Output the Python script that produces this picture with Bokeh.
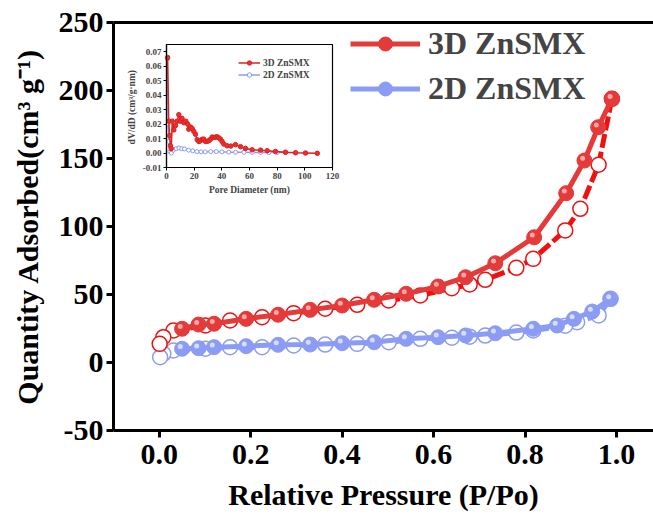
from bokeh.plotting import figure
from bokeh.models import Range1d, LinearAxis, FixedTicker, Legend, LegendItem, PrintfTickFormatter
from bokeh.transform import dodge
from bokeh.embed import file_html
from bokeh.resources import INLINE

# ---------------- data ----------------
X_TICKS = [0.0, 0.2, 0.4, 0.6, 0.8, 1.0]
Y_TICKS = [-50, 0, 50, 100, 150, 200, 250]

ads3d_x = [0.05, 0.086, 0.12, 0.19, 0.26, 0.33, 0.40, 0.47, 0.54, 0.61, 0.67, 0.735, 0.82, 0.89, 0.93, 0.96, 0.99]
ads3d_y = [24.8, 27.9, 28.5, 32.1, 35.1, 38.7, 41.9, 46.1, 50.5, 55.9, 62.7, 73.0, 92.1, 124.5, 148.5, 173.0, 193.9]
des3d_x = [0.99, 0.961, 0.921, 0.888, 0.818, 0.781, 0.713, 0.679, 0.640, 0.571, 0.502, 0.433, 0.363, 0.294, 0.225, 0.155, 0.101, 0.031, 0.009, 0.001]
des3d_y = [193.9, 145.4, 113.0, 97.1, 76.2, 69.6, 60.8, 57.4, 54.6, 49.3, 45.6, 42.4, 39.5, 36.3, 33.3, 30.9, 27.2, 23.5, 18.6, 13.7]

ads2d_x = [0.05, 0.086, 0.12, 0.19, 0.26, 0.33, 0.40, 0.47, 0.54, 0.61, 0.67, 0.735, 0.818, 0.87, 0.907, 0.947, 0.987]
ads2d_y = [10.1, 10.5, 11.3, 12.0, 13.0, 13.2, 14.2, 14.9, 17.4, 18.6, 19.9, 21.5, 24.8, 27.2, 32.1, 37.5, 46.8]
des2d_x = [0.987, 0.961, 0.914, 0.888, 0.818, 0.781, 0.713, 0.679, 0.640, 0.571, 0.502, 0.433, 0.363, 0.294, 0.225, 0.155, 0.101, 0.031, 0.009, 0.002]
des2d_y = [46.8, 34.6, 29.6, 27.0, 23.5, 22.0, 19.8, 19.0, 18.2, 17.4, 14.9, 13.7, 13.2, 12.5, 11.2, 11.2, 10.1, 8.8, 6.4, 3.9]

INSET_X_TICKS = [0, 20, 40, 60, 80, 100, 120]
INSET_Y_TICKS = [-0.01, 0.0, 0.01, 0.02, 0.03, 0.04, 0.05, 0.06, 0.07]
psd3d_x = [0.8, 1.6, 2.2, 2.8, 3.4, 4.2, 5.3, 6.5, 7.7, 8.9, 10.0, 11.2, 12.5, 14.0, 15.3, 16.1, 17.3, 18.5, 19.7,
           20.9, 22.2, 23.4, 24.6, 25.8, 26.9, 28.2, 29.4, 30.6, 31.8, 33.0, 34.2, 35.4, 36.6, 37.8, 39.0, 40.2,
           41.4, 43.8, 46.5, 49.9, 53.5, 57.1, 61.9, 68.0, 72.8, 78.8, 86.0, 93.3, 100.5, 109.0]
psd3d_y = [0.066, 0.022, 0.012, 0.005, 0.003, 0.022, 0.016, 0.019, 0.022, 0.0265, 0.022, 0.024, 0.021, 0.022, 0.020,
           0.0165, 0.018, 0.017, 0.015, 0.013, 0.0092, 0.008, 0.0085, 0.0095, 0.0096, 0.008, 0.0081, 0.0085, 0.0095,
           0.011, 0.0108, 0.011, 0.0112, 0.0105, 0.0096, 0.008, 0.0062, 0.005, 0.0048, 0.0058, 0.0044, 0.0032,
           0.0022, 0.0020, 0.0016, 0.0011, 0.0006, 0.0002, 0.0, -0.0002]
psd2d_x = [0.6, 1.2, 1.8, 2.5, 3.5, 5, 7, 9, 11, 13, 16, 19, 22, 25, 28, 32, 36, 40, 45, 50, 56, 62, 68, 74, 80, 86]
psd2d_y = [0.065, 0.02, 0.008, 0.001, 0.0, 0.002, 0.003, 0.0035, 0.003, 0.0028, 0.002, 0.0015, 0.001, 0.0008,
           0.0008, 0.001, 0.001, 0.0008, 0.0006, 0.0005, 0.0005, 0.0004, 0.0004, 0.0003, 0.0003, 0.0003]

# ---------------- layout / style ----------------
W, H = 653, 517
FRAME_L, FRAME_T, FRAME_B = 113, 22, 430
FONT = "Liberation Serif"
RED_A, RED_D, RED_HI = "#e43a3a", "#f01010", "#ffb4b4"
BLUE, BLUE_HI = "#8b9cf4", "#dfe4ff"

p = figure(width=W, height=H, output_backend="svg", toolbar_location=None,
           x_range=Range1d(-0.1, 1.081), y_range=Range1d(-50, 250),
           min_border_left=FRAME_L, min_border_right=0, min_border_top=FRAME_T,
           min_border_bottom=H - FRAME_B)
p.outline_line_color = None
p.grid.visible = False
p.background_fill_color = "white"
p.border_fill_color = "white"

xa, ya = p.xaxis[0], p.yaxis[0]
xa.ticker = FixedTicker(ticks=X_TICKS)
xa.formatter = PrintfTickFormatter(format="%.1f")
ya.ticker = FixedTicker(ticks=Y_TICKS)
ya.major_label_overrides = {t: ("%d" % t) for t in Y_TICKS}
xa.axis_label = "Relative Pressure (P/Po)"
ya.axis_label = "Quantity Adsorbed(cm³ g⁻¹)"
for ax in (xa, ya):
    ax.axis_line_width = 3
    ax.major_tick_line_width = 3
    ax.major_tick_out = 7
    ax.major_tick_in = 0
    ax.minor_tick_out = 0
    ax.minor_tick_in = 0
    ax.major_label_text_font = FONT
    ax.major_label_text_font_style = "bold"
    ax.major_label_text_font_size = "30px"
    ax.axis_label_text_font = FONT
    ax.axis_label_text_font_style = "bold"
    ax.axis_label_text_font_size = "30px"
    ax.axis_label_text_color = "black"
    ax.major_label_text_color = "black"
xa.major_label_standoff = 7
xa.axis_label_standoff = 11
ya.major_label_standoff = 3
ya.axis_label_standoff = 12

top = LinearAxis(ticker=FixedTicker(ticks=[]), axis_line_width=3, major_tick_out=0, minor_tick_out=0,
                 major_tick_in=0, minor_tick_in=0)
p.add_layout(top, "above")

# main isotherms
def isotherm(ax_, ay_, dx_, dy_, ca, cd, chi, fill):
    p.line(dx_, dy_, line_color=cd, line_width=5, line_dash="14 4")
    p.scatter(dx_, dy_, size=15, marker="circle", fill_color="white", line_color=cd, line_width=1.5)
    la = p.line(ax_, ay_, line_color=ca, line_width=5)
    sa = p.scatter(ax_, ay_, size=15, marker="circle", fill_color=fill, line_color=fill, line_width=1)
    src = dict(x=ax_, y=ay_)
    p.scatter(x=dodge("x", -0.004), y=dodge("y", 1.6), source=src, size=5, marker="circle",
              fill_color=chi, line_color=None, fill_alpha=0.9)
    return la, sa

la2, sa2 = isotherm(ads2d_x, ads2d_y, des2d_x, des2d_y, BLUE, BLUE, BLUE_HI, BLUE)
la3, sa3 = isotherm(ads3d_x, ads3d_y, des3d_x, des3d_y, RED_A, RED_D, RED_HI, RED_A)

# legend: location is the bottom-left corner, in px from the frame's bottom-left
LEG_TOP, LEG_ITEM_H, LEG_SP = 29, 35, 8
leg_h = 2 * LEG_ITEM_H + LEG_SP
leg = Legend(items=[LegendItem(label="3D ZnSMX", renderers=[la3, sa3]),
                    LegendItem(label="2D ZnSMX", renderers=[la2, sa2])],
             location=(237, FRAME_B - LEG_TOP - leg_h), orientation="vertical",
             label_text_font=FONT, label_text_font_style="bold", label_text_font_size="32px",
             glyph_width=70, glyph_height=LEG_ITEM_H, label_height=LEG_ITEM_H, spacing=LEG_SP,
             label_standoff=8, padding=0, margin=0, border_line_alpha=0, background_fill_alpha=0)
p.add_layout(leg, "center")

# ---------------- inset ----------------
IN_L, IN_R, IN_T, IN_B = 166, 332, 44, 167
IX = (0, 120)
IY = (-0.01, 0.075)
sx = (IN_R - IN_L) / (IX[1] - IX[0])
sy = (IN_B - IN_T) / (IY[1] - IY[0])
p.extra_x_ranges = {"ix": Range1d(IX[0] - (IN_L - FRAME_L) / sx, IX[1] + (W - IN_R) / sx)}
p.extra_y_ranges = {"iy": Range1d(IY[0] - (FRAME_B - IN_B) / sy, IY[1] + (IN_T - FRAME_T) / sy)}

p.quad(left=IX[0], right=IX[1], bottom=IY[0], top=IY[1], x_range_name="ix", y_range_name="iy",
       fill_color="white", line_color="black", line_width=1.2)

r2l = p.line(psd2d_x, psd2d_y, x_range_name="ix", y_range_name="iy", line_color=BLUE, line_width=1.5)
r2s = p.scatter(psd2d_x, psd2d_y, x_range_name="ix", y_range_name="iy", size=4, marker="circle",
                fill_color="white", line_color=BLUE, line_width=1)
r3l = p.line(psd3d_x, psd3d_y, x_range_name="ix", y_range_name="iy", line_color="#e02020", line_width=1.5)
r3s = p.scatter(psd3d_x, psd3d_y, x_range_name="ix", y_range_name="iy", size=4.5, marker="circle",
                fill_color="#e83030", line_color="#e02020", line_width=1)

iax = LinearAxis(x_range_name="ix", y_range_name="iy", fixed_location=IY[0], bounds=IX,
                 ticker=FixedTicker(ticks=INSET_X_TICKS), axis_label="Pore Diameter (nm)")
iay = LinearAxis(x_range_name="ix", y_range_name="iy", fixed_location=IX[0], bounds=IY,
                 ticker=FixedTicker(ticks=INSET_Y_TICKS), axis_label="dV/dD  (cm³/g·nm)")
iay.formatter = PrintfTickFormatter(format="%.2f")
iay.major_label_overrides = {t: ("%.2f" % t) for t in INSET_Y_TICKS}
for ax in (iax, iay):
    ax.axis_line_width = 1.2
    ax.major_tick_line_width = 1
    ax.major_tick_out = 3
    ax.major_tick_in = 0
    ax.minor_tick_out = 0
    ax.minor_tick_in = 0
    ax.major_label_text_font = FONT
    ax.major_label_text_font_style = "bold"
    ax.major_label_text_font_size = "9px"
    ax.major_label_standoff = 2
    ax.axis_label_text_font = FONT
    ax.axis_label_text_font_style = "bold"
    ax.axis_label_text_font_size = "9.5px"
    ax.axis_label_standoff = 3
p.add_layout(iax, "below")
p.add_layout(iay, "left")

ILEG_TOP, ILEG_ITEM_H, ILEG_SP = 57, 11, 1
ileg_h = 2 * ILEG_ITEM_H + ILEG_SP
ileg = Legend(items=[LegendItem(label="3D ZnSMX", renderers=[r3l, r3s]),
                     LegendItem(label="2D ZnSMX", renderers=[r2l, r2s])],
              location=(125, FRAME_B - ILEG_TOP - ileg_h), orientation="vertical",
              label_text_font=FONT, label_text_font_style="bold", label_text_font_size="9.5px",
              glyph_width=22, glyph_height=ILEG_ITEM_H, label_height=ILEG_ITEM_H, spacing=ILEG_SP,
              label_standoff=3, padding=0, margin=0, border_line_alpha=0, background_fill_alpha=0)
p.add_layout(ileg, "center")

open("out.html", "w").write(file_html(p, INLINE))
